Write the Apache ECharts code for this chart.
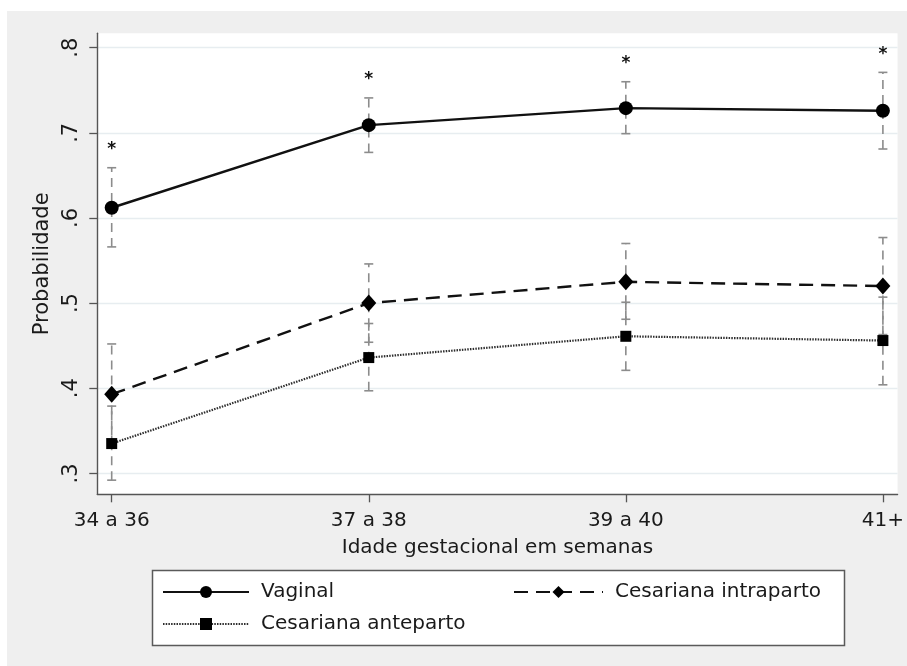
<!DOCTYPE html>
<html>
<head>
<meta charset="utf-8">
<script src="https://cdn.jsdelivr.net/npm/echarts@6/dist/echarts.min.js"></script>
<style>
  html, body { margin: 0; padding: 0; background: #ffffff; }
  #bg { position: absolute; left: 7px; top: 11px; width: 900px; height: 655px; background: #efefef; }
  #chart { position: absolute; left: 0; top: 0; width: 907px; height: 666px; }
</style>
</head>
<body>
<div id="bg"></div>
<div id="chart"></div>
<script>
// ---- data ----
const categories = ['34 a 36', '37 a 38', '39 a 40', '41+'];
const yTickValues = [0.3, 0.4, 0.5, 0.6, 0.7, 0.8];
const yTickLabels = ['.3', '.4', '.5', '.6', '.7', '.8'];

const vaginal      = [0.612, 0.709, 0.729, 0.726];
const vaginalLow   = [0.566, 0.677, 0.699, 0.681];
const vaginalHigh  = [0.659, 0.741, 0.760, 0.771];
const vaginalSig   = ['*', '*', '*', '*'];

const intraparto     = [0.393, 0.500, 0.525, 0.520];
const intrapartoLow  = [0.334, 0.454, 0.481, 0.463];
const intrapartoHigh = [0.452, 0.546, 0.570, 0.577];

const anteparto     = [0.335, 0.436, 0.461, 0.456];
const antepartoLow  = [0.292, 0.397, 0.421, 0.404];
const antepartoHigh = [0.379, 0.476, 0.501, 0.507];

const seriesNames = ['Vaginal', 'Cesariana intraparto', 'Cesariana anteparto'];
const xAxisTitle = 'Idade gestacional em semanas';
const yAxisTitle = 'Probabilidade';

// ---- helpers ----
const FONT = 'DejaVu Sans';
const pts = arr => arr.map((v, i) => [i, v]);
const ci = (lo, hi, sig) => lo.map((v, i) => [i, v, hi[i], sig ? sig[i] : '']);

function renderErrorBar(params, api) {
  const x = api.value(0);
  const pLo = api.coord([x, api.value(1)]);
  const pHi = api.coord([x, api.value(2)]);
  const sig = api.value(3);
  const cap = 4.5;
  const grey = '#8c8c8c';
  const children = [
    { type: 'line', shape: { x1: pLo[0], y1: pLo[1], x2: pHi[0], y2: pHi[1] },
      style: { stroke: grey, lineWidth: 1.6, lineDash: [9, 6] } },
    { type: 'line', shape: { x1: pLo[0] - cap, y1: pLo[1], x2: pLo[0] + cap, y2: pLo[1] },
      style: { stroke: grey, lineWidth: 1.6 } },
    { type: 'line', shape: { x1: pHi[0] - cap, y1: pHi[1], x2: pHi[0] + cap, y2: pHi[1] },
      style: { stroke: grey, lineWidth: 1.6 } }
  ];
  if (sig && sig !== '-') {
    children.push({ type: 'text', x: pHi[0], y: pHi[1] - 18,
      style: { text: String(sig), fill: '#111', font: 'bold 17px ' + FONT, align: 'center', verticalAlign: 'middle' } });
  }
  return { type: 'group', children };
}

const chart = echarts.init(document.getElementById('chart'), null, { renderer: 'canvas' });

const legendCommon = {
  orient: 'horizontal', padding: 0, itemHeight: 15,
  textStyle: { fontFamily: FONT, fontSize: 20, color: '#1a1a1a', padding: [0, 0, 0, 7] },
  selectedMode: false
};

const option = {
  backgroundColor: 'transparent',
  animation: false,
  graphic: [
    { type: 'rect', z: -10, shape: { x: 152.5, y: 570.5, width: 692, height: 75 },
      style: { fill: '#ffffff', stroke: '#5a5a5a', lineWidth: 1.5 } }
  ],
  grid: { left: 97.3, right: 7.7, top: 33.3, bottom: 171.7, show: true, backgroundColor: '#ffffff', borderWidth: 0 },
  xAxis: {
    type: 'value', min: -0.056, max: 3.057,
    name: xAxisTitle, nameLocation: 'middle', nameGap: 43,
    nameTextStyle: { fontFamily: FONT, fontSize: 20, color: '#1a1a1a' },
    axisLine: { show: true, onZero: false, lineStyle: { color: '#555', width: 1.4 } },
    axisTick: { show: true, length: 8, customValues: [0, 1, 2, 3], lineStyle: { color: '#555', width: 1.3 } },
    axisLabel: { customValues: [0, 1, 2, 3], margin: 16, fontFamily: FONT, fontSize: 20, color: '#1a1a1a',
      formatter: v => categories[Math.round(v)] },
    splitLine: { show: false }
  },
  yAxis: {
    type: 'value', min: 0.2754, max: 0.8169,
    name: yAxisTitle, nameLocation: 'middle', nameGap: 42,
    nameTextStyle: { fontFamily: FONT, fontSize: 21, color: '#1a1a1a' },
    axisLine: { show: true, onZero: false, lineStyle: { color: '#555', width: 1.4 } },
    axisTick: { show: true, length: 8, customValues: yTickValues, lineStyle: { color: '#555', width: 1.3 } },
    axisLabel: { customValues: yTickValues, rotate: 90, margin: 15, fontFamily: FONT, fontSize: 21, color: '#1a1a1a',
      formatter: v => { const i = yTickValues.findIndex(t => Math.abs(t - v) < 1e-6); return i >= 0 ? yTickLabels[i] : ''; } },
    splitLine: { show: true, lineStyle: { color: '#e7edf0', width: 1.3 } }
  },
  legend: [
    Object.assign({}, legendCommon, { data: [seriesNames[0]], left: 162, top: 582, itemWidth: 86 }),
    Object.assign({}, legendCommon, { data: [seriesNames[1]], left: 513, top: 582, itemWidth: 89 }),
    Object.assign({}, legendCommon, { data: [seriesNames[2]], left: 162, top: 614, itemWidth: 86 })
  ],
  series: [
    { type: 'custom', name: 'ci-vaginal', renderItem: renderErrorBar, data: ci(vaginalLow, vaginalHigh, vaginalSig), z: 1, silent: true },
    { type: 'custom', name: 'ci-intra', renderItem: renderErrorBar, data: ci(intrapartoLow, intrapartoHigh), z: 1, silent: true },
    { type: 'custom', name: 'ci-ante', renderItem: renderErrorBar, data: ci(antepartoLow, antepartoHigh), z: 1, silent: true },
    { type: 'line', name: seriesNames[2], data: pts(anteparto), z: 3,
      symbol: 'rect', symbolSize: 11, showAllSymbol: true,
      itemStyle: { color: '#000' },
      lineStyle: { color: '#2e2e2e', width: 2.2, type: [1.5, 1.2] } },
    { type: 'line', name: seriesNames[1], data: pts(intraparto), z: 4,
      symbol: 'diamond', symbolSize: [15, 17], showAllSymbol: true,
      itemStyle: { color: '#000' },
      lineStyle: { color: '#111', width: 2.4, type: [14, 8] } },
    { type: 'line', name: seriesNames[0], data: pts(vaginal), z: 5,
      symbol: 'circle', symbolSize: 14, showAllSymbol: true,
      itemStyle: { color: '#000' },
      lineStyle: { color: '#111', width: 2.4, type: 'solid' } }
  ]
};
chart.setOption(option);
</script>
</body>
</html>
